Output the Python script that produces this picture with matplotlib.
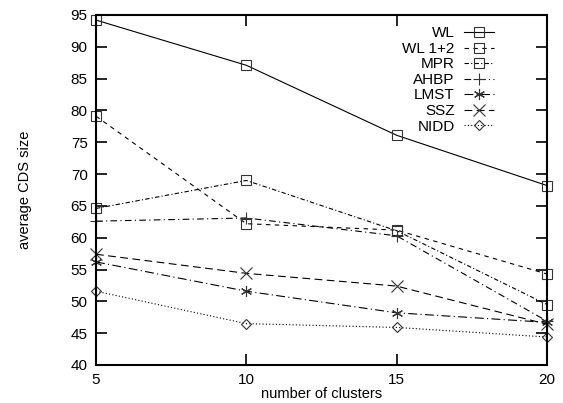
import matplotlib
matplotlib.use("Agg")
import matplotlib.pyplot as plt

plt.rcParams['font.family'] = ['Liberation Sans', 'DejaVu Sans']

clusters = [5, 10, 15, 20]
wl = [94.2, 87.1, 76.1, 68.2]
wl12 = [79.1, 62.2, 61.2, 54.3]
mpr = [64.6, 69.0, 61.1, 49.5]
ahbp = [62.6, 63.1, 60.3, 46.9]
lmst = [56.2, 51.6, 48.2, 46.7]
ssz = [57.4, 54.4, 52.4, 46.4]
nidd = [51.6, 46.5, 45.9, 44.4]

names = ["WL", "WL 1+2", "MPR", "AHBP", "LMST", "SSZ", "NIDD"]
series = [wl, wl12, mpr, ahbp, lmst, ssz, nidd]
markers = ['s', 's', 's', '+', (6, 2, 0), 'x', 'D']
msizes = [7, 7, 7, 9, 8, 8, 5.5]
styles = ['-', (0, (4, 4)), (0, (4, 2, 1, 2)), (0, (6, 3, 1, 3)),
          (0, (8, 3, 1, 3)), (0, (7, 4)), (0, (1, 2))]

fig = plt.figure(figsize=(5.63, 4.03), dpi=100)
ax = fig.add_axes([0.1705, 0.0943, 0.801, 0.8685])

for n, s, m, ms, ls in zip(names, series, markers, msizes, styles):
    ax.plot(clusters, s, linestyle=ls, color='black', lw=0.8,
            marker=m, markersize=ms, markerfacecolor='none',
            markeredgecolor='#333333', markeredgewidth=0.8, label=n,
            clip_on=False)

ax.set_xlim(5, 20)
ax.set_ylim(40, 95)
ax.set_xticks([5, 10, 15, 20])
ax.set_yticks(range(40, 96, 5))
ax.tick_params(direction='in', length=8, width=1.2, top=True, right=True,
               labelsize=11, pad=6)
for sp in ax.spines.values():
    sp.set_linewidth(1.5)

ax.set_xlabel("number of clusters", fontsize=10.5, labelpad=0)
ax.set_ylabel("average CDS size", fontsize=10.5, labelpad=28)

leg = ax.legend(loc='upper right', bbox_to_anchor=(0.897, 0.985), frameon=False,
                markerfirst=False, fontsize=11, handlelength=2.0,
                handletextpad=0.6, labelspacing=0.1, borderaxespad=0)

fig.savefig("out.png", dpi=100)
